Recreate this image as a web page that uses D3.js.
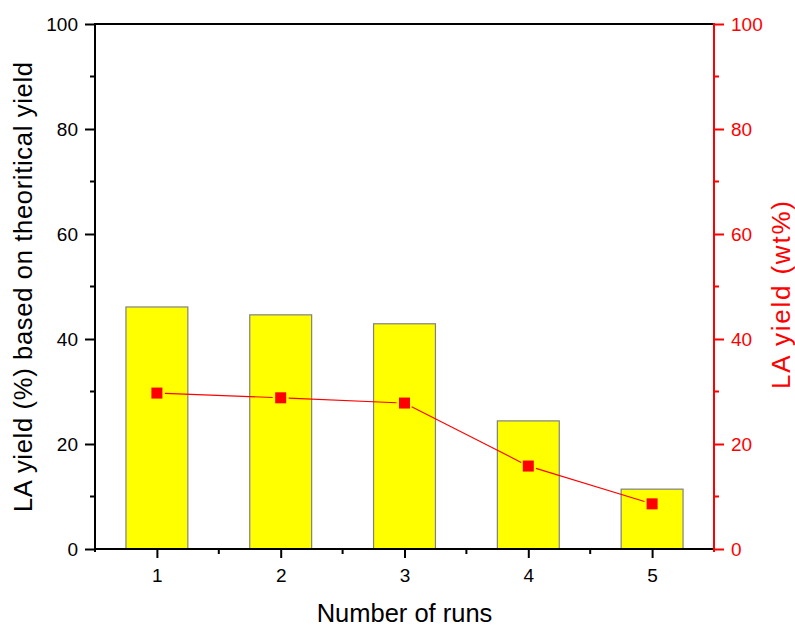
<!DOCTYPE html>
<html>
<head>
<meta charset="utf-8">
<script src="https://cdn.jsdelivr.net/npm/d3@7"></script>
<style>
  html, body { margin: 0; padding: 0; background: #fff; }
  svg { display: block; font-family: "Liberation Sans", Arial, sans-serif; }
</style>
</head>
<body>
<svg id="chart" width="795" height="628"></svg>
<script>
// Recycling runs of the catalyst
const runs = [1, 2, 3, 4, 5];
// LA yield based on theoretical yield (%) — bars, left axis
const theoreticalYield = [46.1, 44.6, 42.9, 24.4, 11.4];
// LA yield (wt%) — red squares, right axis
const wtYield = [29.7, 28.8, 27.8, 15.8, 8.6];
const yTicks = [0, 20, 40, 60, 80, 100];
const yMinorTicks = [10, 30, 50, 70, 90];
const xMinorTicks = [1.5, 2.5, 3.5, 4.5];

const svg = d3.select("#chart");
const plotL = 95, plotR = 714, plotT = 24, plotB = 549;

const x = d3.scaleLinear().domain([0.5, 5.5]).range([plotL, plotR]);
const yL = d3.scaleLinear().domain([0, 100]).range([plotB, plotT]);
const yR = d3.scaleLinear().domain([0, 100]).range([plotB, plotT]);
const barW = (x(2) - x(1)) * 0.5;

// bars
svg.append("g").selectAll("rect")
  .data(runs)
  .join("rect")
  .attr("x", (d) => x(d) - barW / 2)
  .attr("y", (d, i) => yL(theoreticalYield[i]))
  .attr("width", barW)
  .attr("height", (d, i) => yL(0) - yL(theoreticalYield[i]))
  .attr("fill", "#ffff00")
  .attr("stroke", "#808080")
  .attr("stroke-width", 1.2);

// wt% line (broken around each marker) and markers
const pts = runs.map((r, i) => [x(r), yR(wtYield[i])]);
const gap = 8;
const lineG = svg.append("g");
for (let i = 0; i < pts.length - 1; i++) {
  const [x0, y0] = pts[i], [x1, y1] = pts[i + 1];
  const len = Math.hypot(x1 - x0, y1 - y0);
  const ux = (x1 - x0) / len, uy = (y1 - y0) / len;
  lineG.append("line")
    .attr("x1", x0 + ux * gap).attr("y1", y0 + uy * gap)
    .attr("x2", x1 - ux * gap).attr("y2", y1 - uy * gap)
    .attr("stroke", "#ff0000").attr("stroke-width", 1.1);
}
svg.append("g").selectAll("rect")
  .data(runs)
  .join("rect")
  .attr("x", (d) => x(d) - 5.5)
  .attr("y", (d, i) => yR(wtYield[i]) - 5.5)
  .attr("width", 11)
  .attr("height", 11)
  .attr("fill", "#ff0000");

// axes
const tickFont = 19;
function styleAxis(g, color) {
  g.select(".domain").remove();
  g.selectAll(".tick line").attr("stroke", color).attr("stroke-width", 2);
  g.selectAll(".tick text").attr("fill", color).attr("font-size", tickFont)
    .attr("font-family", "Liberation Sans, Arial, sans-serif");
}

// left axis
const gL = svg.append("g").attr("transform", `translate(${plotL},0)`);
gL.call(d3.axisLeft(yL).tickValues(yTicks).tickSize(10).tickPadding(7));
styleAxis(gL, "#000");
gL.append("g").selectAll("line").data(yMinorTicks).join("line")
  .attr("x1", -5).attr("x2", 0).attr("y1", yL).attr("y2", yL)
  .attr("stroke", "#000").attr("stroke-width", 2);

// right axis
const gR = svg.append("g").attr("transform", `translate(${plotR},0)`);
gR.call(d3.axisRight(yR).tickValues(yTicks).tickSize(10).tickPadding(7));
styleAxis(gR, "#ff0000");
gR.append("g").selectAll("line").data(yMinorTicks).join("line")
  .attr("x1", 0).attr("x2", 5).attr("y1", yR).attr("y2", yR)
  .attr("stroke", "#ff0000").attr("stroke-width", 2);

// bottom axis
const gB = svg.append("g").attr("transform", `translate(0,${plotB})`);
gB.call(d3.axisBottom(x).tickValues(runs).tickFormat(d3.format("d")).tickSize(9).tickPadding(11));
styleAxis(gB, "#000");
gB.append("g").selectAll("line").data(xMinorTicks).join("line")
  .attr("x1", x).attr("x2", x).attr("y1", 0).attr("y2", 5)
  .attr("stroke", "#000").attr("stroke-width", 2);

// frame lines
svg.append("line").attr("x1", plotL).attr("x2", plotR).attr("y1", plotT).attr("y2", plotT)
  .attr("stroke", "#000").attr("stroke-width", 2);
svg.append("line").attr("x1", plotL).attr("x2", plotR).attr("y1", plotB).attr("y2", plotB)
  .attr("stroke", "#000").attr("stroke-width", 2);
svg.append("line").attr("x1", plotL).attr("x2", plotL).attr("y1", plotT - 1).attr("y2", plotB + 3)
  .attr("stroke", "#000").attr("stroke-width", 2);
svg.append("line").attr("x1", plotR).attr("x2", plotR).attr("y1", plotT - 1).attr("y2", plotB + 3)
  .attr("stroke", "#ff0000").attr("stroke-width", 2);

// titles
svg.append("text")
  .attr("x", (plotL + plotR) / 2).attr("y", 622)
  .attr("text-anchor", "middle").attr("font-size", 25.5).attr("fill", "#000")
  .text("Number of runs");
svg.append("text")
  .attr("transform", `translate(32,287) rotate(-90)`)
  .attr("text-anchor", "middle").attr("font-size", 25.5).attr("fill", "#000")
  .attr("textLength", 450).attr("lengthAdjust", "spacing")
  .text("LA yield (%) based on theoritical yield");
svg.append("text")
  .attr("transform", `translate(790,295) rotate(-90)`)
  .attr("text-anchor", "middle").attr("font-size", 26).attr("fill", "#ff0000")
  .attr("textLength", 188).attr("lengthAdjust", "spacing")
  .text("LA yield (wt%)");
</script>
</body>
</html>
